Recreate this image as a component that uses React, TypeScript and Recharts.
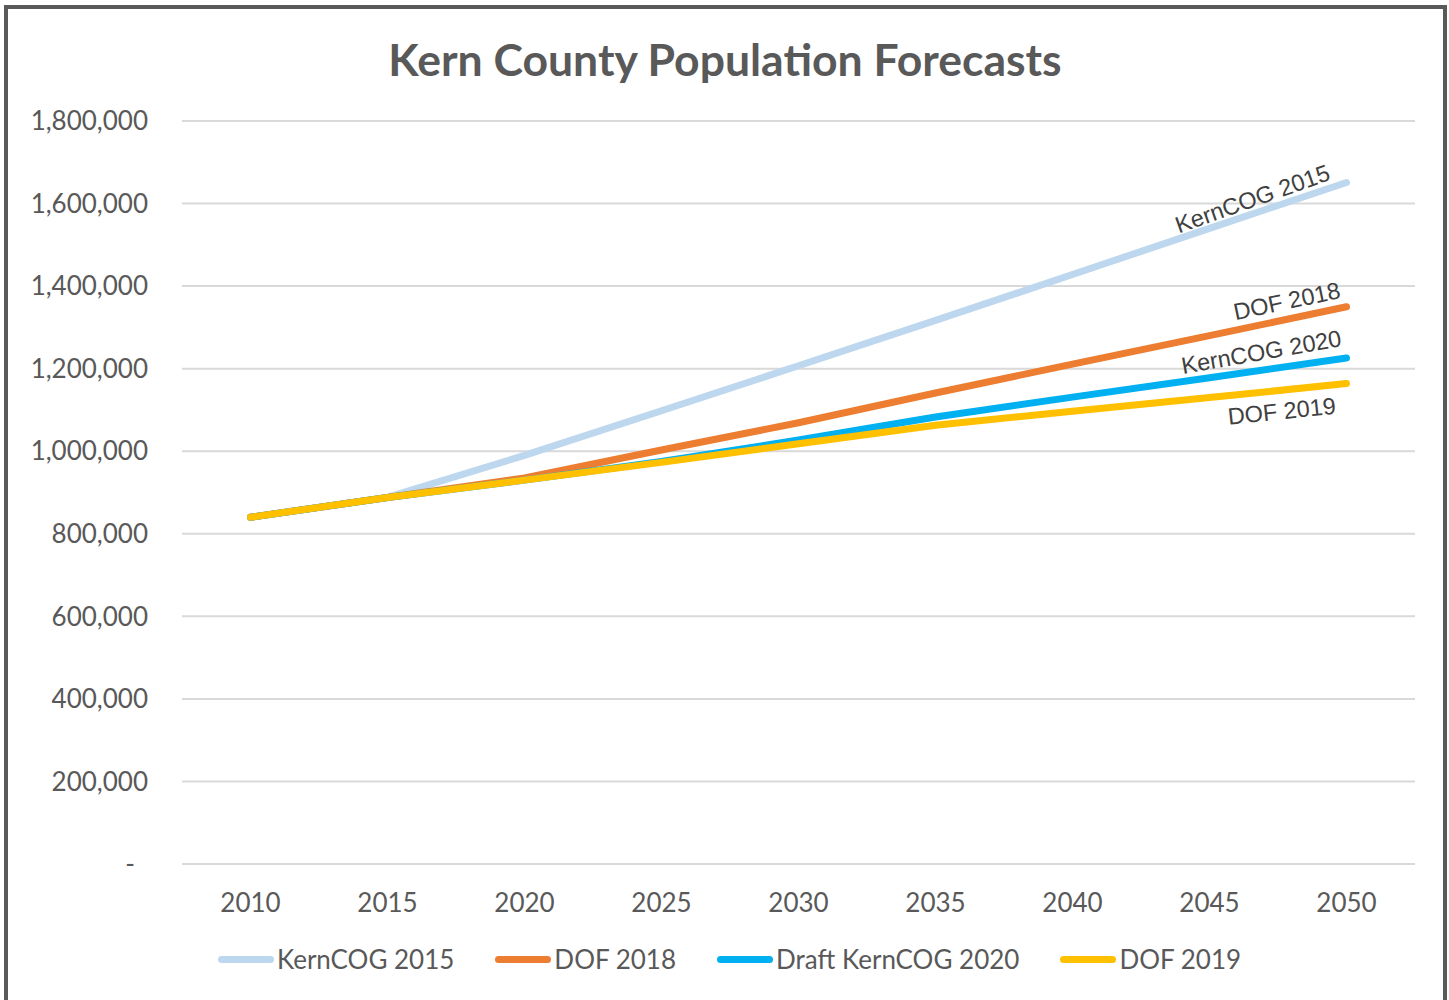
import React from 'react';
import { LineChart, Line, XAxis, YAxis, CartesianGrid, Legend, LabelList } from 'recharts';

const years = ['2010', '2015', '2020', '2025', '2030', '2035', '2040', '2045', '2050'];
const kernCOG2015 = [840000, 888000, 990000, 1098000, 1207000, 1317000, 1428000, 1540000, 1651000];
const dof2018 = [840000, 888000, 935000, 1003000, 1069000, 1141000, 1211000, 1280000, 1350000];
const draftKernCOG2020 = [840000, 888000, 930000, 975000, 1027000, 1083000, 1131000, 1178000, 1226000];
const dof2019 = [840000, 888000, 930000, 973000, 1018000, 1063000, 1097000, 1130000, 1164000];
const yTicks = [0, 200000, 400000, 600000, 800000, 1000000, 1200000, 1400000, 1600000, 1800000];

const seriesMeta = [
  { key: 'k2015', name: 'KernCOG 2015', label: 'KernCOG 2015', color: '#BDD7EE', angle: -19.5, dx: -15, dy: -3 },
  { key: 'd2018', name: 'DOF 2018', label: 'DOF 2018', color: '#ED7D31', angle: -12, dx: -5, dy: -9 },
  { key: 'k2020', name: 'Draft KernCOG 2020', label: 'KernCOG 2020', color: '#00B0F0', angle: -10, dx: -4, dy: -12 },
  { key: 'd2019', name: 'DOF 2019', label: 'DOF 2019', color: '#FFC000', angle: -6, dx: -10, dy: 30 },
];

const data = years.map((y, i) => ({
  year: y,
  k2015: kernCOG2015[i],
  d2018: dof2018[i],
  k2020: draftKernCOG2020[i],
  d2019: dof2019[i],
}));

const FONT = 'Lato, "Open Sans", sans-serif';
const TXT = '#595959';

const fmt = (v: number) => v.toLocaleString('en-US');

const YTick = (props: any) => {
  const { x, y, payload } = props;
  if (payload.value === 0) {
    return (
      <text x={x - 18} y={y} dy="0.355em" textAnchor="middle" fill={TXT} fontSize={26} fontFamily={FONT}>-</text>
    );
  }
  return (
    <text x={x} y={y} dy="0.355em" textAnchor="end" fill={TXT} fontSize={26} fontFamily={FONT}>
      {fmt(payload.value)}
    </text>
  );
};

const makeLabel = (meta: any) => (props: any) => {
  const { x, y, index } = props;
  if (index !== years.length - 1) return null;
  const tx = x + meta.dx;
  const ty = y + meta.dy;
  return (
    <text
      x={tx}
      y={ty}
      textAnchor="end"
      fill="#404040"
      fontSize={23.5}
      fontFamily='"Liberation Sans", Arial, sans-serif'
      transform={`rotate(${meta.angle} ${tx} ${ty})`}
    >
      {meta.label}
    </text>
  );
};

const LegendContent = () => (
  <div style={{ display: 'flex', justifyContent: 'center', alignItems: 'center', fontFamily: FONT, fontSize: 26, color: TXT, paddingLeft: 10 }}>
    {seriesMeta.map((m, i) => (
      <div key={m.key} style={{ display: 'flex', alignItems: 'center', marginLeft: i === 0 ? 0 : 41 }}>
        <div style={{ width: 56, height: 7, borderRadius: 4, background: m.color, marginRight: 3 }} />
        <span>{m.name}</span>
      </div>
    ))}
  </div>
);

export default function App() {
  return (
    <div style={{ position: 'absolute', left: 0, top: 0, width: 1449, height: 1000, background: '#fff', overflow: 'hidden' }}>
      <div
        style={{
          position: 'absolute', left: 4, top: 5, width: 1443, height: 1000,
          border: '4px solid #595959', borderBottom: 'none', boxSizing: 'border-box',
        }}
      />
      <svg width={1449} height={100} style={{ position: 'absolute', left: 0, top: 0 }}>
        <text x={725} y={76} textAnchor="middle" fill={TXT} fontSize={44.5} fontWeight={700} fontFamily={FONT}>
          Kern County Population Forecasts
        </text>
      </svg>
      <div style={{ position: 'absolute', left: 0, top: 0 }}>
        <LineChart width={1449} height={1000} data={data} margin={{ top: 121, right: 34, bottom: 74, left: 0 }}>
          <CartesianGrid vertical={false} stroke="#d9d9d9" strokeWidth={2} />
          <XAxis
            dataKey="year"
            scale="point"
            padding={{ left: 68.5, right: 68.5 }}
            axisLine={false}
            tickLine={false}
            tickSize={0}
            tickMargin={30}
            tick={{ fill: TXT, fontSize: 26, fontFamily: FONT }}
            interval={0}
          />
          <YAxis
            width={182}
            domain={[0, 1800000]}
            ticks={yTicks}
            axisLine={false}
            tickLine={false}
            tickSize={0}
            tickMargin={34}
            tick={<YTick />}
            interval={0}
          />
          <Legend
            verticalAlign="bottom"
            wrapperStyle={{ position: 'absolute', left: 0, top: 943, width: 1449 }}
            content={<LegendContent />}
          />
          {seriesMeta.map((m) => (
            <Line
              key={m.key}
              type="linear"
              dataKey={m.key}
              name={m.name}
              stroke={m.color}
              strokeWidth={7}
              strokeLinecap="round"
              strokeLinejoin="round"
              dot={false}
              activeDot={false}
              isAnimationActive={false}
            >
              <LabelList dataKey={m.key} content={makeLabel(m)} />
            </Line>
          ))}
        </LineChart>
      </div>
    </div>
  );
}
